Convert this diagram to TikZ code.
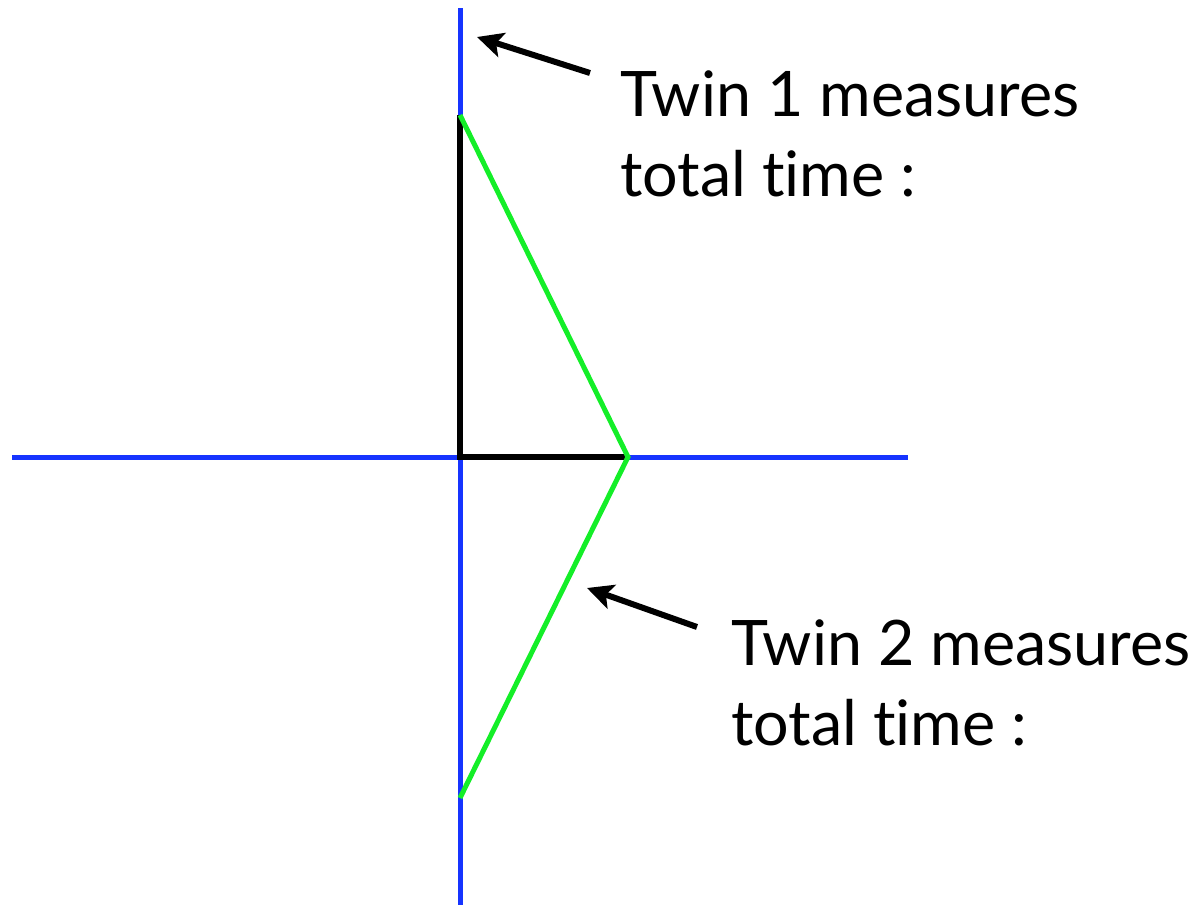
\documentclass[tikz,border=0pt]{standalone}
\usepackage{fontspec}
\setmainfont{Lato}[Ligatures=NoCommon]
\usetikzlibrary{arrows.meta}
\definecolor{axisBlue}{RGB}{22,52,255}
\definecolor{pathGreen}{RGB}{20,238,40}
\definecolor{labelDark}{HTML}{000000}
\tikzset{
  axis line/.style={axisBlue, line width=5bp},
  rest line/.style={labelDark, line width=6bp, line join=miter},
  travel line/.style={pathGreen, line width=5bp, line join=miter},
  pointer/.style={labelDark, line width=6bp,
    -{Stealth[length=26bp,width=25bp,inset=6bp]}},
  twin label/.style={anchor=base west, inner sep=0pt, align=left,
    font=\fontsize{63}{80}\selectfont, labelDark},
}

\begin{document}
\begin{tikzpicture}[x=1bp, y=-1bp, line cap=butt]
  % frame of the reference picture
  \useasboundingbox (0,0) rectangle (1200,905);

  % --- spacetime axes ---
  \coordinate (top) at (460,8);
  \coordinate (bottom) at (460,905);
  \coordinate (left) at (12,457);
  \coordinate (right) at (908,457);
  \draw[axis line] (top) -- (bottom);
  \draw[axis line] (left) -- (right);

  % --- world lines ---
  \coordinate (origin) at (460,457);
  \coordinate (meet) at (460,115);
  \coordinate (turn) at (628,457);
  \coordinate (start) at (460,798);
  \draw[rest line] (meet) -- (origin) -- (turn);
  \draw[travel line] (meet) -- (turn) -- (start);

  % --- labels and pointers (base anchor sits on the last line) ---
  \node[twin label] (twinone) at (620,196) {Twin 1 measures\\total time :};
  \node[twin label] (twintwo) at (731,745) {Twin 2 measures\\total time :};

  \coordinate (tailone) at (590,73);
  \coordinate (tipone) at (477,37);
  \draw[pointer] (tailone) -- (tipone);
  \coordinate (tailtwo) at (697,627);
  \coordinate (tiptwo) at (587,588);
  \draw[pointer] (tailtwo) -- (tiptwo);
\end{tikzpicture}
\end{document}
